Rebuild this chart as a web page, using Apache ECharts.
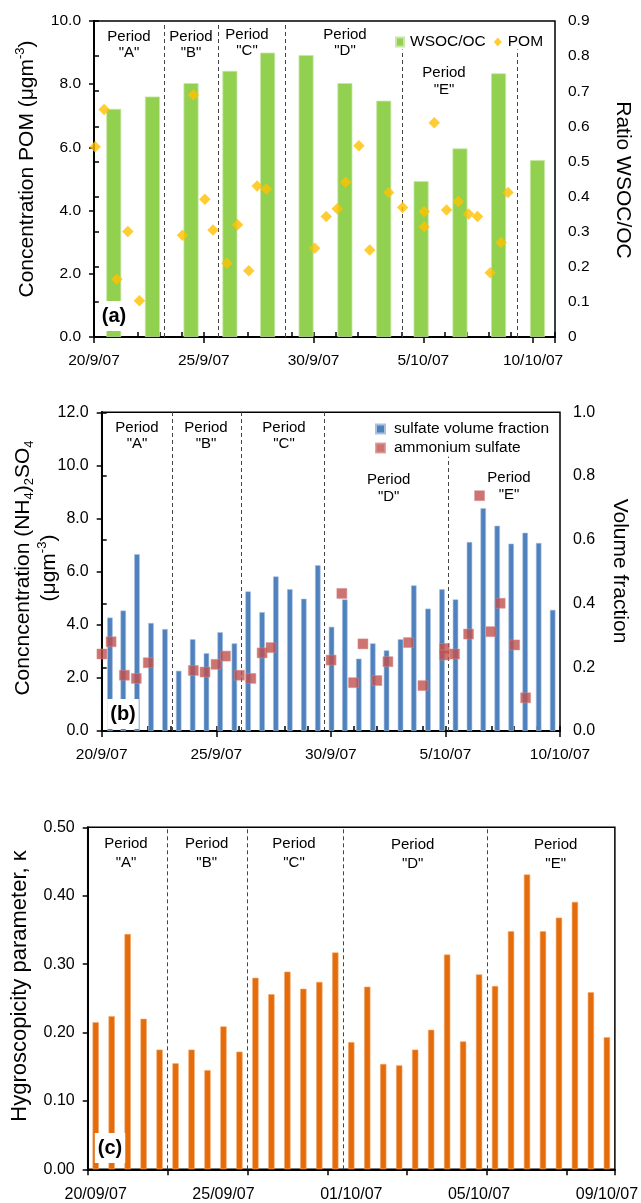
<!DOCTYPE html>
<html><head><meta charset="utf-8">
<script src="https://cdn.jsdelivr.net/npm/echarts@6/dist/echarts.min.js"></script>
<style>html,body{margin:0;padding:0;background:#fff}#c{width:641px;height:1203px}</style>
</head><body><div id="c"></div>
<script>
// ---------- Panel (a) ----------
const ratioDaysA = [0.9, 2.66, 4.42, 6.19, 7.91, 9.66, 11.43, 13.2, 14.9, 16.67, 18.43, 20.2];
const ratioA = [0.65, 0.685, 0.723, 0.758, 0.81, 0.803, 0.723, 0.673, 0.444, 0.537, 0.751, 0.504];
const pomDaysA = [0.05, 0.46, 1.04, 1.54, 2.07, 4.03, 4.53, 5.05, 5.42, 6.06, 6.54, 7.05, 7.43, 7.85,
  10.05, 10.58, 11.08, 11.46, 12.07, 12.56, 13.42, 14.06, 15.04, 15.04, 15.5, 16.06, 16.59, 17.06,
  17.47, 18.05, 18.54, 18.86];
const pomA = [6.02, 7.2, 1.83, 3.34, 1.15, 3.22, 7.66, 4.36, 3.39, 2.33, 3.55, 2.1, 4.78, 4.68,
  2.81, 3.81, 4.06, 4.9, 6.05, 2.75, 4.57, 4.1, 3.97, 3.49, 6.78, 4.02, 4.29, 3.89,
  3.81, 2.03, 2.99, 4.57];
const periodLinesA = [3.2, 5.67, 8.69, 14.05, 19.3];
const periodLineTopA = [10, 10, 10, 9.1, 9.1];
const dateTicksA = ['20/9/07', '25/9/07', '30/9/07', '5/10/07', '10/10/07'];

// ---------- Panel (b) ----------
const sulfateDaysB = [0.36, 0.94, 1.54, 2.15, 2.76, 3.36, 3.97, 4.57, 5.17, 5.79, 6.39, 7.0, 7.6, 8.21,
  8.82, 9.43, 10.03, 10.61, 11.22, 11.83, 12.43, 13.04, 13.62, 14.24, 14.85, 15.44, 16.05, 16.65,
  17.26, 17.87, 18.48, 19.07, 19.68];
const sulfateB = [0.356, 0.378, 0.555, 0.339, 0.32, 0.189, 0.288, 0.244, 0.31, 0.275, 0.438, 0.373,
  0.485, 0.445, 0.415, 0.52, 0.327, 0.413, 0.227, 0.275, 0.253, 0.288, 0.457, 0.384, 0.445, 0.413,
  0.593, 0.699, 0.644, 0.588, 0.622, 0.59, 0.38];
const ammDaysB = [0.01, 0.41, 0.99, 1.51, 2.03, 4.0, 4.51, 4.99, 5.4, 6.01, 6.51, 7.0, 7.39, 10.01,
  10.48, 10.99, 11.4, 12.01, 12.49, 13.39, 14.02, 14.96, 14.96, 15.4, 16.01, 16.49, 16.99, 17.39,
  18.02, 18.5];
const ammB = [2.9, 3.36, 2.1, 1.98, 2.57, 2.28, 2.22, 2.51, 2.82, 2.1, 1.98, 2.94, 3.14, 2.67,
  5.18, 1.82, 3.28, 1.9, 2.61, 3.33, 1.71, 3.11, 2.86, 2.9, 3.65, 8.86, 3.74, 4.81,
  3.24, 1.25];
const periodLinesB = [3.08, 6.08, 9.71, 15.13];
const periodLineTopB = [12, 12, 12, 10.33];
const dateTicksB = ['20/9/07', '25/9/07', '30/9/07', '5/10/07', '10/10/07'];

// ---------- Panel (c) ----------
const samplesC = ['s01','s02','s03','s04','s05','s06','s07','s08','s09','s10','s11','s12','s13','s14',
  's15','s16','s17','s18','s19','s20','s21','s22','s23','s24','s25','s26','s27','s28','s29','s30',
  's31','s32','s33'];
const kappaC = [0.215, 0.224, 0.344, 0.22, 0.175, 0.155, 0.175, 0.145, 0.209, 0.172, 0.28, 0.256,
  0.289, 0.264, 0.274, 0.317, 0.186, 0.267, 0.154, 0.152, 0.175, 0.204, 0.314, 0.187, 0.285, 0.268,
  0.348, 0.431, 0.348, 0.368, 0.391, 0.259, 0.193];
const dateTickIndexC = [0, 8, 16, 24, 32];
const dateTicksC = ['20/09/07', '25/09/07', '01/10/07', '05/10/07', '09/10/07'];
const periodBoundsC = [5, 10, 16, 25];

// ---------- build ----------
const FONT = 'Liberation Sans, Arial, sans-serif';
const zip = (a, b) => a.map((v, i) => [v, b[i]]);
const dashStyle = { type: [4, 3], color: '#444', width: 1 };

function vLines(xs, bottom, tops) {
  return {
    silent: true, symbol: ['none', 'none'], label: { show: false }, animation: false,
    lineStyle: dashStyle,
    data: xs.map((x, i) => [{ coord: [x, bottom] }, { coord: [x, tops[i]] }])
  };
}

function mainX(grid, max, labels, fs) {
  return {
    type: 'value', gridIndex: grid, min: 0, max: max, interval: 5, position: 'bottom',
    axisLine: { show: true, lineStyle: { color: '#000', width: 2 } },
    axisTick: { show: true, inside: false, length: 6, lineStyle: { color: '#000', width: 1.5 } },
    splitLine: { show: false },
    axisLabel: { margin: 16, fontSize: fs, color: '#000', fontFamily: FONT,
      formatter: v => (v % 5 === 0 && labels[v / 5] !== undefined) ? labels[v / 5] : '' }
  };
}
function minorX(grid, max) {
  return {
    type: 'value', gridIndex: grid, min: 0, max: max, interval: 1, position: 'bottom',
    axisLine: { show: false }, axisLabel: { show: false }, splitLine: { show: false },
    axisTick: { show: true, inside: true, length: 5, lineStyle: { color: '#000', width: 1.5 } }
  };
}
function yAx(grid, pos, max, interval, fmt, fs) {
  return {
    type: 'value', gridIndex: grid, position: pos, min: 0, max: max, interval: interval,
    axisLine: { show: true, lineStyle: { color: '#000', width: 2 } },
    axisTick: { show: true, inside: false, length: 5, lineStyle: { color: '#000', width: 1.5 } },
    splitLine: { show: false },
    axisLabel: { margin: 13, fontSize: fs, color: '#000', fontFamily: FONT, formatter: fmt }
  };
}

function periodText(label, x, y, lh) {
  return { type: 'text', x: x, y: y, z: 50,
    style: { text: 'Period\n"' + label + '"', fill: '#000', font: '15px ' + FONT,
      align: 'center', verticalAlign: 'middle', lineHeight: lh } };
}
function panelTag(t, x, y) {
  return { type: 'text', x: x, y: y, z: 60,
    style: { text: t, fill: '#000', font: 'bold 20px ' + FONT, align: 'center', verticalAlign: 'middle',
      backgroundColor: '#fff', padding: [5, 3, 5, 3] } };
}

const chart = echarts.init(document.getElementById('c'), null, { renderer: 'canvas' });
chart.setOption({
  animation: false,
  backgroundColor: '#fff',
  textStyle: { fontFamily: FONT },
  grid: [
    { left: 94, top: 21, width: 461, height: 316, show: true, borderColor: '#000', borderWidth: 1.5, backgroundColor: 'transparent' },
    { left: 101.7, top: 412.3, width: 458.3, height: 318.7, show: true, borderColor: '#000', borderWidth: 1.5, backgroundColor: 'transparent' },
    { left: 87.7, top: 827.3, width: 529, height: 342, show: true, borderColor: '#000', borderWidth: 1.5, backgroundColor: 'transparent' }
  ],
  xAxis: [
    mainX(0, 21, dateTicksA, 15.5),
    minorX(0, 21),
    mainX(1, 20, dateTicksB, 15.5),
    minorX(1, 20),
    {
      type: 'category', gridIndex: 2, data: samplesC, boundaryGap: true, position: 'bottom',
      axisLine: { show: true, lineStyle: { color: '#000', width: 2 } },
      axisTick: { show: true, alignWithLabel: false, length: 6, interval: i => i % 5 === 0,
        lineStyle: { color: '#000', width: 1.5 } },
      axisLabel: { margin: 17, fontSize: 16, color: '#000', fontFamily: FONT,
        interval: i => dateTickIndexC.indexOf(i) >= 0,
        formatter: (v, i) => { const k = dateTickIndexC.indexOf(i); return k >= 0 ? dateTicksC[k] : ''; } }
    },
    { type: 'value', gridIndex: 2, min: 0, max: samplesC.length, show: false }
  ],
  yAxis: [
    yAx(0, 'left', 10, 2, v => v.toFixed(1), 15.5),
    yAx(0, 'right', 0.9, 0.1, v => v === 0 ? '0' : v.toFixed(1), 15.5),
    yAx(1, 'left', 12, 2, v => v.toFixed(1), 16),
    yAx(1, 'right', 1.0, 0.2, v => v.toFixed(1), 16),
    yAx(2, 'left', 0.5, 0.1, v => v.toFixed(2), 16)
  ],
  legend: [
    { left: 390, top: 29, orient: 'horizontal', itemWidth: 8, itemHeight: 9, itemGap: 8,
      textStyle: { fontSize: 15.5, color: '#000', fontFamily: FONT, padding: [0, 0, 0, 1] },
      data: [{ name: 'WSOC/OC', icon: 'rect' }, { name: 'POM', icon: 'diamond' }] },
    { left: 370, top: 416, orient: 'vertical', itemWidth: 9, itemHeight: 9, itemGap: 3,
      textStyle: { fontSize: 15.5, color: '#000', fontFamily: FONT, padding: [0, 0, 0, 4] },
      data: [{ name: 'sulfate volume fraction', icon: 'rect' }, { name: 'ammonium sulfate', icon: 'rect' }] }
  ],
  series: [
    { name: 'WSOC/OC', type: 'bar', xAxisIndex: 0, yAxisIndex: 1, barWidth: 15,
      itemStyle: { color: '#92D050', borderColor: '#c8e6a6', borderWidth: 0.8 },
      data: zip(ratioDaysA, ratioA), z: 2 },
    { name: 'POM', type: 'scatter', xAxisIndex: 0, yAxisIndex: 0, symbol: 'diamond', symbolSize: 11.5,
      itemStyle: { color: '#FFC000' }, data: zip(pomDaysA, pomA), z: 5,
      markLine: vLines(periodLinesA, 0, periodLineTopA) },
    { name: 'sulfate volume fraction', type: 'bar', xAxisIndex: 2, yAxisIndex: 3, barWidth: 5.5,
      itemStyle: { color: '#4F81BD', borderColor: '#a9c1e0', borderWidth: 0.6 },
      data: zip(sulfateDaysB, sulfateB), z: 2 },
    { name: 'ammonium sulfate', type: 'scatter', xAxisIndex: 2, yAxisIndex: 2, symbol: 'rect', symbolSize: 10,
      itemStyle: { color: '#C0504D', borderColor: '#d9908e', borderWidth: 0.6 }, data: zip(ammDaysB, ammB), z: 5,
      markLine: vLines(periodLinesB, 0, periodLineTopB) },
    { name: 'kappa', type: 'bar', xAxisIndex: 4, yAxisIndex: 4, barWidth: 6.3,
      itemStyle: { color: '#E46C0A', borderColor: '#f2a86a', borderWidth: 0.6 }, data: kappaC, z: 2 },
    { name: 'periodsC', type: 'line', xAxisIndex: 5, yAxisIndex: 4, data: [], symbol: 'none',
      markLine: vLines(periodBoundsC, 0, periodBoundsC.map(() => 0.5)) }
  ],
  graphic: [
    periodText('A', 129, 45, 16), periodText('B', 191, 45, 16), periodText('C', 247, 42.5, 16),
    periodText('D', 345, 43, 16), periodText('E', 444, 81.5, 17),
    periodText('A', 137, 435.7, 15.5), periodText('B', 206, 435.7, 15.5), periodText('C', 284, 435.7, 15.5),
    periodText('D', 388.7, 488.7, 17), periodText('E', 509, 486.7, 17),
    periodText('A', 126, 853.3, 18.7), periodText('B', 206.7, 853.3, 18.7), periodText('C', 294, 853.3, 18.7),
    periodText('D', 412.7, 854.5, 18.7), periodText('E', 555.7, 854.5, 18.7),
    panelTag('(a)', 114, 316), panelTag('(b)', 123, 714), panelTag('(c)', 110, 1148),
    { type: 'text', x: 27, y: 169, rotation: Math.PI / 2, z: 50,
      style: { text: 'Concentration POM (μgm{sup|-3})', fill: '#000', font: '21px ' + FONT,
        align: 'center', verticalAlign: 'middle', lineHeight: 26,
        rich: { sup: { fontSize: 13, fontFamily: FONT, fill: '#000', verticalAlign: 'top', lineHeight: 20 } } } },
    { type: 'text', x: 623, y: 180, rotation: -Math.PI / 2, z: 50,
      style: { text: 'Ratio WSOC/OC', fill: '#000', font: '21px ' + FONT, align: 'center', verticalAlign: 'middle' } },
    { type: 'text', x: 36, y: 568, rotation: Math.PI / 2, z: 50,
      style: { text: 'Concncentration (NH{sub|4}){sub|2}SO{sub|4}\n(μgm{sup|-3})', fill: '#000', font: '21px ' + FONT,
        align: 'center', verticalAlign: 'middle', lineHeight: 26,
        rich: { sub: { fontSize: 13, fontFamily: FONT, fill: '#000', verticalAlign: 'bottom', lineHeight: 18 },
                sup: { fontSize: 13, fontFamily: FONT, fill: '#000', verticalAlign: 'top', lineHeight: 20 } } } },
    { type: 'text', x: 620, y: 571, rotation: -Math.PI / 2, z: 50,
      style: { text: 'Volume fraction', fill: '#000', font: '21px ' + FONT, align: 'center', verticalAlign: 'middle' } },
    { type: 'text', x: 20, y: 986, rotation: Math.PI / 2, z: 50,
      style: { text: 'Hygroscopicity parameter, κ', fill: '#000', font: '22px ' + FONT, align: 'center', verticalAlign: 'middle' } }
  ]
});
</script></body></html>
